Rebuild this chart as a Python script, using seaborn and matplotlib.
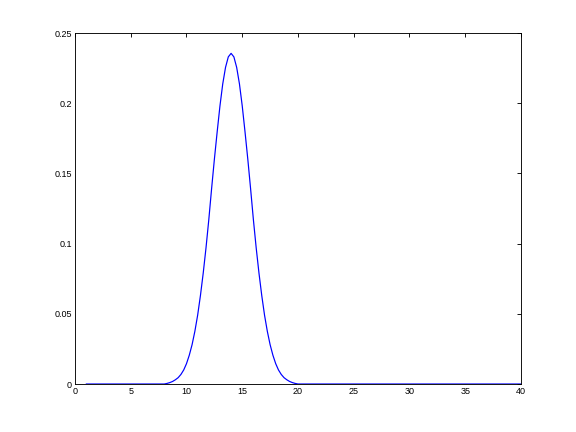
import matplotlib
matplotlib.use("Agg")
import matplotlib.pyplot as plt
import seaborn as sns
import pandas as pd

# curve values (x, y)
x_vals = [1, 8, 8.25, 8.5, 8.75, 9, 9.25, 9.5, 9.75, 10, 10.25, 10.5, 10.75, 11,
          11.25, 11.5, 11.75, 12, 12.25, 12.5, 12.75, 13, 13.25, 13.5, 13.75, 14,
          14.25, 14.5, 14.75, 15, 15.25, 15.5, 15.75, 16, 16.25, 16.5, 16.75, 17,
          17.25, 17.5, 17.75, 18, 18.25, 18.5, 18.75, 19, 19.25, 19.5, 19.75, 20, 40]
y_vals = [0, 0, 0.0004, 0.0010, 0.0018, 0.0030, 0.0045, 0.0068, 0.0100, 0.0145,
          0.0205, 0.0280, 0.0375, 0.0490, 0.0630, 0.0790, 0.0970, 0.1170, 0.1390,
          0.1600, 0.1795, 0.1980, 0.2137, 0.2255, 0.2330, 0.2355, 0.2330, 0.2255,
          0.2137, 0.1980, 0.1795, 0.1600, 0.1390, 0.1170, 0.0970, 0.0790, 0.0630,
          0.0490, 0.0375, 0.0280, 0.0205, 0.0145, 0.0100, 0.0068, 0.0045, 0.0030,
          0.0018, 0.0010, 0.0004, 0, 0]

x_ticks = [0, 5, 10, 15, 20, 25, 30, 35, 40]
y_ticks = [0, 0.05, 0.1, 0.15, 0.2, 0.25]
y_tick_labels = ["0", "0.05", "0.1", "0.15", "0.2", "0.25"]

sns.set_style("white")
plt.rcParams["font.family"] = ["Liberation Sans", "DejaVu Sans"]

df = pd.DataFrame({"x": x_vals, "y": y_vals})

fig = plt.figure(figsize=(8, 6), dpi=72)
ax = fig.add_axes([0.1302, 0.1111, 0.7743, 0.8125])
sns.lineplot(data=df, x="x", y="y", ax=ax, color="#0000ff", linewidth=1.2,
             sort=False, estimator=None)
ax.set_xlim(0, 40)
ax.set_ylim(0, 0.25)
ax.set_xticks(x_ticks)
ax.set_xticklabels([str(t) for t in x_ticks])
ax.set_yticks(y_ticks)
ax.set_yticklabels(y_tick_labels)
ax.set_xlabel("")
ax.set_ylabel("")
for s in ax.spines.values():
    s.set_visible(True)
    s.set_color("black")
    s.set_linewidth(0.9)
ax.tick_params(direction="in", length=4, width=0.9, top=True, right=True,
               labelsize=9, colors="black", pad=3)
fig.savefig("out.png", dpi=72, facecolor="white")
